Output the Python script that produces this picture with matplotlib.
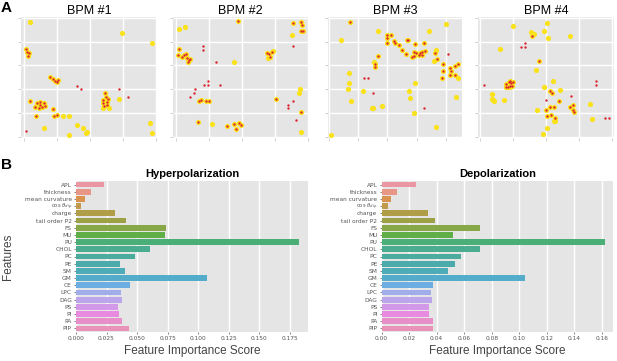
import numpy as np
import matplotlib
matplotlib.use('Agg')
import matplotlib.pyplot as plt
import matplotlib.transforms as mtransforms
import seaborn as sns

# --- panel A: BPM maps (grid units), yellow = lone yellow, both = yellow with red dot, red = lone red
bpm1_yellow = [(0.20,4.83),(2.96,4.36),(3.87,3.94),(2.87,1.57),(1.20,0.88),(1.38,0.88),(0.62,0.38),(1.62,0.49),
               (1.78,0.35),(1.92,0.21),(1.88,0.17),(1.38,0.07),(3.80,0.59),(3.86,0.14),(2.40,1.19),(2.58,1.19)]
bpm1_both = [(0.08,3.71),(0.10,3.57),(0.17,3.52),(0.13,3.38),(0.80,2.49),(0.88,2.41),(0.95,2.34),(1.05,2.38),
             (1.02,2.31),(2.45,1.82),(2.48,1.68),(2.40,1.54),(2.50,1.47),(2.55,1.57),(2.38,1.40),(2.52,1.33),
             (2.42,1.29),(0.40,1.40),(0.50,1.33),(0.60,1.40),(0.45,1.19),(0.35,1.26),(0.55,1.26),(0.65,1.29),
             (0.48,1.47),(0.18,1.50),(0.87,1.17),(0.38,0.87),(0.90,0.88),(1.02,0.91)]
bpm1_red = [(1.62,2.14),(1.72,1.99),(2.88,1.99),(3.14,1.66),(0.06,0.22)]

bpm2_yellow = [(0.08,4.52),(0.26,4.62),(3.50,4.28),(1.74,3.13),(2.95,3.60),(2.78,3.31),(3.76,2.01),(3.73,1.83),
               (1.07,0.55),(3.80,0.18)]
bpm2_both = [(1.88,4.86),(3.55,4.77),(3.78,4.83),(3.83,4.69),(3.80,4.46),(3.85,4.43),(0.08,3.70),(0.06,3.42),
             (0.16,3.35),(0.22,3.45),(0.28,3.49),(0.32,3.31),(0.38,3.21),(0.35,3.14),(0.42,3.26),(2.75,3.52),
             (2.83,3.49),(2.90,3.56),(2.85,3.35),(0.68,1.49),(0.75,1.53),(0.90,1.48),(1.00,1.50),(3.02,1.59),
             (3.80,1.03),(0.66,0.63),(1.53,0.46),(1.75,0.55),(1.90,0.58),(1.98,0.50),(1.82,0.32)]
bpm2_red = [(0.82,3.81),(0.82,3.63),(1.20,3.14),(3.53,3.81),(0.95,2.34),(0.83,2.16),(0.97,2.16),(1.33,2.16),
            (0.57,2.01),(0.53,1.85),(0.43,1.68),(3.53,1.52),(3.40,1.35),(3.40,1.19),(3.65,0.70)]

bpm3_yellow = [(0.09,0.07),(0.43,4.08),(1.68,4.43),(3.41,4.43),(4.01,4.73),(0.70,2.69),(0.68,2.27),(0.66,2.01),
               (0.77,1.50),(1.17,1.92),(1.48,1.22),(1.50,1.19),(1.82,1.30),(2.95,2.24),(2.73,1.92),(2.78,1.64),
               (2.93,0.98),(3.66,0.42),(4.34,1.65),(4.41,2.45),(3.58,3.19),(3.67,3.64),(1.54,3.15)]
bpm3_both = [(0.72,4.81),(1.99,4.29),(2.14,4.29),(1.98,4.17),(2.00,3.94),(2.23,4.03),(2.27,3.94),(2.39,3.85),
             (2.52,3.66),(2.66,4.06),(2.70,4.08),(2.65,3.47),(2.95,3.92),(3.24,3.96),(2.90,3.57),(2.98,3.52),
             (3.13,3.52),(3.20,3.57),(3.30,3.61),(3.07,3.45),(3.18,3.45),(2.90,3.38),(2.86,3.36),(3.64,3.52),
             (3.69,3.29),(3.89,3.05),(3.91,2.77),(3.86,2.48),(4.15,2.91),(4.17,2.77),(4.30,2.97),(4.40,3.05),
             (4.15,2.59),(4.32,2.59),(1.70,3.38),(1.59,3.08),(1.57,2.94)]
bpm3_red = [(1.22,2.48),(1.36,2.48),(1.51,1.85),(3.27,1.19),(4.06,3.47)]

bpm4_yellow = [(1.02,4.68),(2.03,4.78),(1.55,4.39),(1.65,4.33),(1.94,4.43),(2.05,4.15),(2.73,4.26),(0.60,3.71),
               (1.70,2.81),(2.20,2.35),(1.93,2.07),(2.42,1.97),(0.36,1.79),(0.36,1.58),(0.44,1.49),(0.40,1.56),
               (0.72,1.56),(0.80,2.07),(0.92,2.07),(1.72,1.14),(3.32,1.38),(3.40,0.72),(2.24,0.64),(2.27,0.64),
               (2.04,0.35),(1.90,0.10)]
bpm4_both = [(1.58,4.22),(1.78,3.19),(2.12,1.92),(2.18,1.83),(2.38,1.51),(2.12,1.24),(2.25,1.25),(2.00,1.14),
             (2.15,0.93),(2.03,0.86),(2.27,0.78),(2.72,1.24),(2.80,1.31),(2.82,1.14),(2.83,1.03),(0.80,2.22),
             (0.88,2.32),(0.95,2.25),(0.90,2.14),(0.85,2.08),(1.02,2.28),(0.78,2.08),(0.92,2.36),(0.98,2.14)]
bpm4_red = [(1.25,3.78),(1.38,3.78),(1.38,3.94),(0.12,2.18),(3.51,2.35),(3.51,2.18),(2.76,1.72),(2.00,1.56),
            (3.77,0.78),(3.89,0.78)]

bpm_titles = ['BPM #1', 'BPM #2', 'BPM #3', 'BPM #4']

# --- panel B: feature importances
features = ['APL', 'thickness', 'mean curvature', r'cos $\theta_{dip}$', 'charge', 'tail order P2', 'FS', 'MU',
            'PU', 'CHOL', 'PC', 'PE', 'SM', 'GM', 'CE', 'LPC', 'DAG', 'PS', 'PI', 'PA', 'PIP']
hyper = [0.0232, 0.0120, 0.0074, 0.0044, 0.0317, 0.0407, 0.0738, 0.0725, 0.1827, 0.0610, 0.0481,
         0.0364, 0.0405, 0.1072, 0.0439, 0.0368, 0.0376, 0.0346, 0.0352, 0.0373, 0.0434]
depol = [0.0248, 0.0109, 0.0068, 0.0049, 0.0336, 0.0391, 0.0712, 0.0516, 0.1622, 0.0717, 0.0579,
         0.0530, 0.0481, 0.1043, 0.0371, 0.0356, 0.0366, 0.0342, 0.0347, 0.0371, 0.0371]

W, H = 617, 361
fig = plt.figure(figsize=(W/100, H/100), dpi=100)
SANS = 'Liberation Sans'
BG = '#e5e5e5'

def px_axes(x0, y0, x1, y1):
    # pixel box (top-left origin) -> figure axes
    return fig.add_axes([x0/W, 1 - y1/H, (x1 - x0)/W, (y1 - y0)/H])

# top row
boxes = [(21, 17, 157, 138), (173, 17, 308, 138), (328, 17, 462, 138), (478, 17, 614, 138)]
xlims = [(-0.08, 4.02), (-0.1, 3.95), (-0.02, 4.55), (-0.05, 4.05)]
pts = [(bpm1_yellow, bpm1_both, bpm1_red), (bpm2_yellow, bpm2_both, bpm2_red),
       (bpm3_yellow, bpm3_both, bpm3_red), (bpm4_yellow, bpm4_both, bpm4_red)]
for box, xl, (yel, both, red), title in zip(boxes, xlims, pts, bpm_titles):
    ax = px_axes(*box)
    ax.set_facecolor(BG)
    for s in ax.spines.values():
        s.set_visible(False)
    ax.set_xlim(*xl)
    ax.set_ylim(-0.06, 5.04)
    ax.set_xticks(range(5))
    ax.set_yticks(range(6))
    ax.tick_params(labelbottom=False, labelleft=False, length=2, width=0.5, color='#bbbbbb')
    ax.grid(True, color='white', lw=1)
    ax.set_axisbelow(True)
    yy = np.array(yel + both)
    ax.scatter(yy[:, 0], yy[:, 1], s=14, color='#f9e21b', lw=0, zorder=3)
    rr = np.array(both + red)
    ax.scatter(rr[:, 0], rr[:, 1], s=3, color='#dc2430', lw=0, zorder=4)
    ax.set_title(title, fontsize=9, family=SANS, pad=2)

# bottom row
pal = [sns.desaturate(c, .75) for c in sns.husl_palette(len(features), l=.7)]
bar_boxes = [(76, 181, 308, 332), (381.5, 181, 613, 332)]
for box, vals, title, xmax, step, fmt in [(bar_boxes[0], hyper, 'Hyperpolarization', 0.19, 0.025, '%.3f'),
                                          (bar_boxes[1], depol, 'Depolarization', 0.168, 0.02, '%.2f')]:
    ax = px_axes(*box)
    ax.set_facecolor(BG)
    for s in ax.spines.values():
        s.set_visible(False)
    y = np.arange(len(features))
    ax.barh(y, vals, height=0.8, color=pal, zorder=3)
    ax.set_ylim(len(features) - 0.5, -0.5)
    ax.set_xlim(0, xmax)
    ticks = np.arange(0, xmax, step)
    ax.set_xticks(ticks)
    ax.set_xticklabels([fmt % t for t in ticks])
    ax.set_yticks(y)
    ax.set_yticklabels(features)
    ax.tick_params(labelsize=4.2, labelcolor='#555555', color='#555555', length=1.5, width=0.5, pad=1.5)
    # the subscripted label is taller than its neighbours: shrink and nudge it up a bit
    lbl = ax.get_yticklabels()[3]
    lbl.set_fontsize(3.8)
    lbl.set_transform(lbl.get_transform() + mtransforms.ScaledTranslation(0, 0.6/72, fig.dpi_scale_trans))
    ax.grid(True, axis='x', color='white', lw=1)
    ax.grid(False, axis='y')
    ax.set_axisbelow(True)
    ax.set_title(title, fontsize=8, fontweight='bold', family=SANS, pad=3)
    ax.set_xlabel('Feature Importance Score', fontsize=8.5, family=SANS, color='#444444', labelpad=3)

fig.text(8/W, 1 - 257/H, 'Features', rotation=90, fontsize=8.5, family=SANS, color='#444444',
         ha='center', va='center')
fig.text(1/W, 1 - 1/H, 'A', fontsize=11, fontweight='bold', family=SANS, va='top')
fig.text(1/W, 1 - 158/H, 'B', fontsize=11, fontweight='bold', family=SANS, va='top')

fig.savefig('out.png', dpi=100)
